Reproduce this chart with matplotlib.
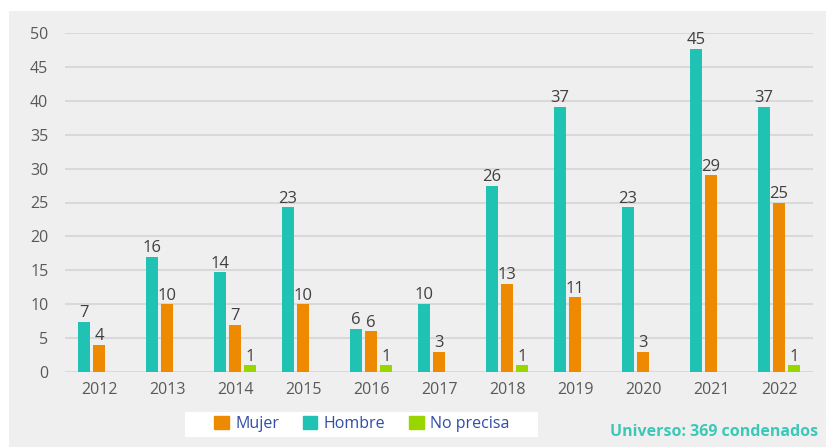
import matplotlib.pyplot as plt
import matplotlib.patches as mpatches
import numpy as np

plt.rcParams['font.family'] = ['Open Sans', 'DejaVu Sans']

anios = ["2012", "2013", "2014", "2015", "2016", "2017", "2018", "2019", "2020", "2021", "2022"]
# etiquetas de los datos
hombre = [7, 16, 14, 23, 6, 10, 26, 37, 23, 45, 37]
mujer = [4, 10, 7, 10, 6, 3, 13, 11, 3, 29, 25]
no_precisa = [0, 0, 1, 0, 1, 0, 1, 0, 0, 0, 1]
# alturas de las barras de Hombre tal como se ven en el grafico
hombre_altura = [7.4, 17.0, 14.7, 24.3, 6.4, 10.1, 27.5, 39.1, 24.3, 47.7, 39.1]

c_hombre = "#20c3b3"
c_mujer = "#ee8a00"
c_np = "#99d600"

fig = plt.figure(figsize=(8.26, 4.47), dpi=100)
fig.patch.set_facecolor("white")
fig.patches.append(mpatches.Rectangle((9 / 826, 0), 1, 1 - 11 / 447, transform=fig.transFigure,
                                      facecolor="#efefef", edgecolor="none", zorder=-10))
# caja blanca de la leyenda
fig.patches.append(mpatches.Rectangle((185 / 826, 1 - 437 / 447), 353 / 826, 25 / 447,
                                      transform=fig.transFigure, facecolor="white",
                                      edgecolor="none", zorder=-5))

ax = fig.add_axes([65 / 826, 1 - 372 / 447, 748 / 826, (372 - 33) / 447])
ax.set_facecolor("none")

x = np.arange(len(anios))
w = 0.176
off = 0.22

b1 = ax.bar(x - off, hombre_altura, w, color=c_hombre, zorder=3)
b2 = ax.bar(x, mujer, w, color=c_mujer, zorder=3)
b3 = ax.bar(x + off, no_precisa, w, color=c_np, zorder=3)

for bars, labels in [(b1, hombre), (b2, mujer), (b3, no_precisa)]:
    for b, v in zip(bars, labels):
        if v == 0:
            continue
        ax.annotate(str(v), (b.get_x() + b.get_width() / 2, b.get_height()),
                    xytext=(0, 0.5), textcoords="offset points", ha="center", va="bottom",
                    fontsize=12, color="#404040", zorder=4)

ax.set_xlim(-0.5, len(anios) - 0.5)
ax.set_ylim(0, 50)
ax.set_yticks(range(0, 51, 5))
ax.set_xticks(x)
ax.set_xticklabels(anios)
ax.tick_params(axis="both", length=0, labelsize=11.5, labelcolor="#595959")
ax.tick_params(axis="y", pad=12)
ax.tick_params(axis="x", pad=7)
ax.grid(axis="y", color="#d9d9d9", linewidth=1.5, zorder=1)
for s in ax.spines.values():
    s.set_visible(False)

handles = [mpatches.Patch(color=c_mujer, label="Mujer"),
           mpatches.Patch(color=c_hombre, label="Hombre"),
           mpatches.Patch(color=c_np, label="No precisa")]
leg = fig.legend(handles=handles, loc="center", bbox_to_anchor=(362 / 826, 1 - 424 / 447),
                 ncol=3, frameon=False, fontsize=11.5, handlelength=0.9, handleheight=0.9,
                 handletextpad=0.4, columnspacing=1.5)
for t in leg.get_texts():
    t.set_color("#2e4da7")

fig.text(818 / 826, 1 - 432 / 447, "Universo: 369 condenados", ha="right", va="center",
         fontsize=11.5, fontweight="bold", color="#3cc8b8")

fig.savefig("out.png", dpi=100, facecolor=fig.get_facecolor())
